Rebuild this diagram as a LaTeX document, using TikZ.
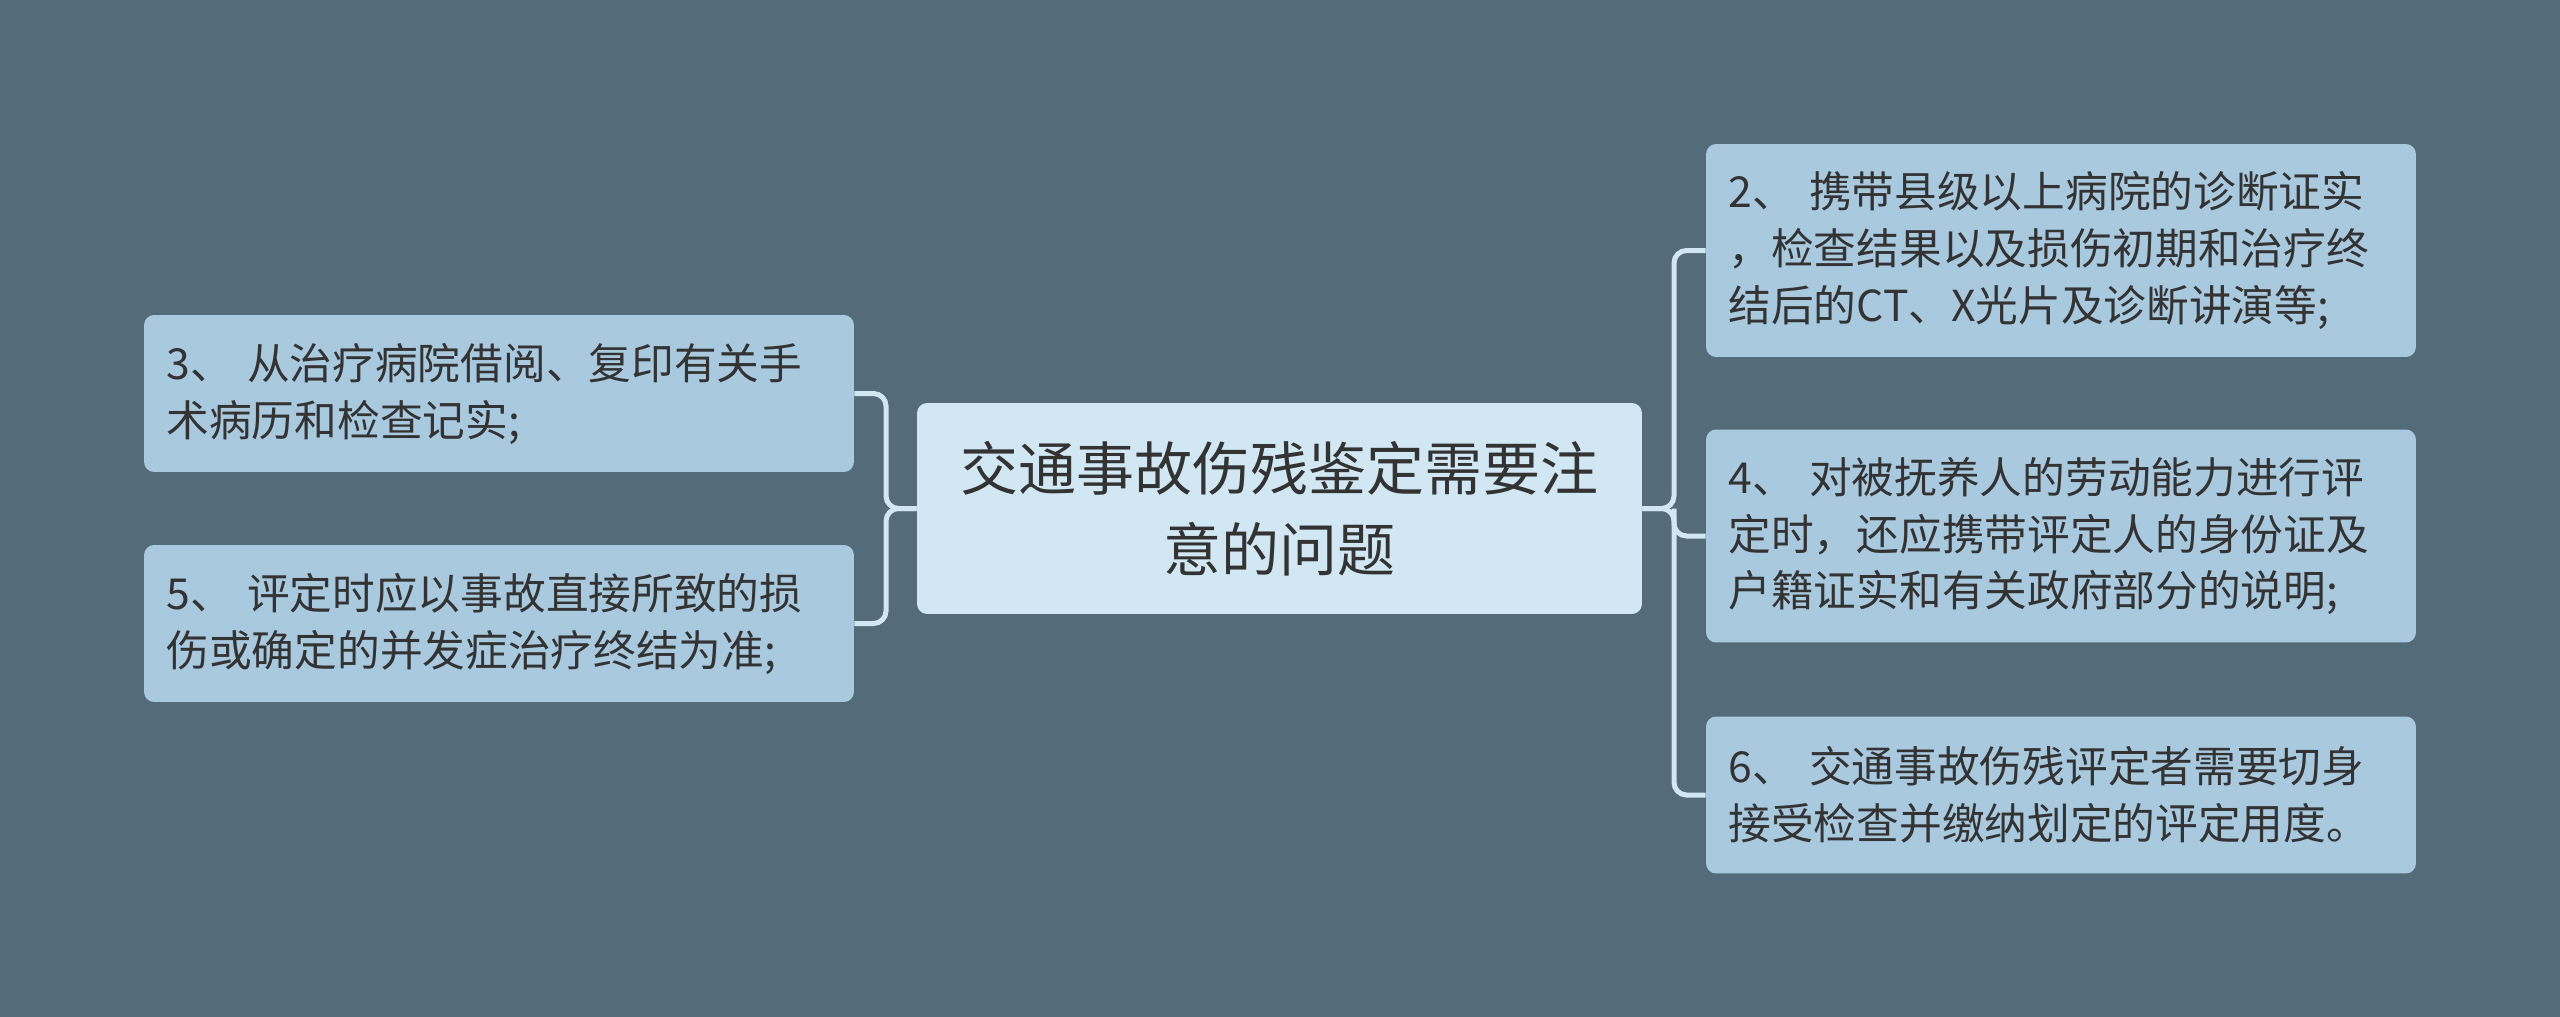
\documentclass[tikz,border=0pt]{standalone}
\usepackage{fontspec}
\setmainfont{Noto Sans CJK SC}
\definecolor{bgblue}{HTML}{546B7A}
\definecolor{rootfill}{HTML}{D1E7F3}
\definecolor{leaffill}{HTML}{A9C9DF}
\definecolor{textgray}{HTML}{333333}
\tikzset{
  root/.style={rounded corners=0.2cm, fill=rootfill, text=textgray, align=center,
    minimum width=14.5cm, minimum height=4.22cm, font=\fontsize{33}{46}\selectfont},
  leaf/.style={rounded corners=0.2cm, fill=leaffill, text=textgray, align=left,
    text width=13.3cm, inner xsep=0.45cm, minimum height=#1,
    font=\fontsize{24.3}{32.4}\selectfont},
  link/.style={draw=rootfill, line width=0.1cm, rounded corners=0.25cm},
}
\begin{document}
\begin{tikzpicture}[x=0.02cm,y=-0.02cm]
        \fill[bgblue] (0,0) rectangle (2560,1017);
        \useasboundingbox (0,0) rectangle (2560,1017);

        \node[root] (root) at (1279.5,508.5) {交通事故伤残鉴定需要注\\意的问题};

        \node[leaf=3.14cm] (n3) at (499,393.5) {3、 从治疗病院借阅、复印有关手\\术病历和检查记实;};
        \node[leaf=3.14cm] (n5) at (499,623.5) {5、 评定时应以事故直接所致的损\\伤或确定的并发症治疗终结为准;};

        \node[leaf=4.26cm] (n2) at (2061,250.5) {2、 携带县级以上病院的诊断证实\\，检查结果以及损伤初期和治疗终\\结后的CT、X光片及诊断讲演等;};
        \node[leaf=4.26cm] (n4) at (2061,536) {4、 对被抚养人的劳动能力进行评\\定时，还应携带评定人的身份证及\\户籍证实和有关政府部分的说明;};
        \node[leaf=3.14cm] (n6) at (2061,795) {6、 交通事故伤残评定者需要切身\\接受检查并缴纳划定的评定用度。};

        % left side
        \draw[link] (root.west) -- (886,508.5) |- (n3.east);
        \draw[link] (root.west) -- (886,508.5) |- (n5.east);
        % right side
        \draw[link] (root.east) -- (1674,508.5) |- (n2.west);
        \draw[link] (root.east) -- (1674,508.5) |- (n6.west);
        \draw[link] (1674,508.5) |- (n4.west);
\end{tikzpicture}
\end{document}
